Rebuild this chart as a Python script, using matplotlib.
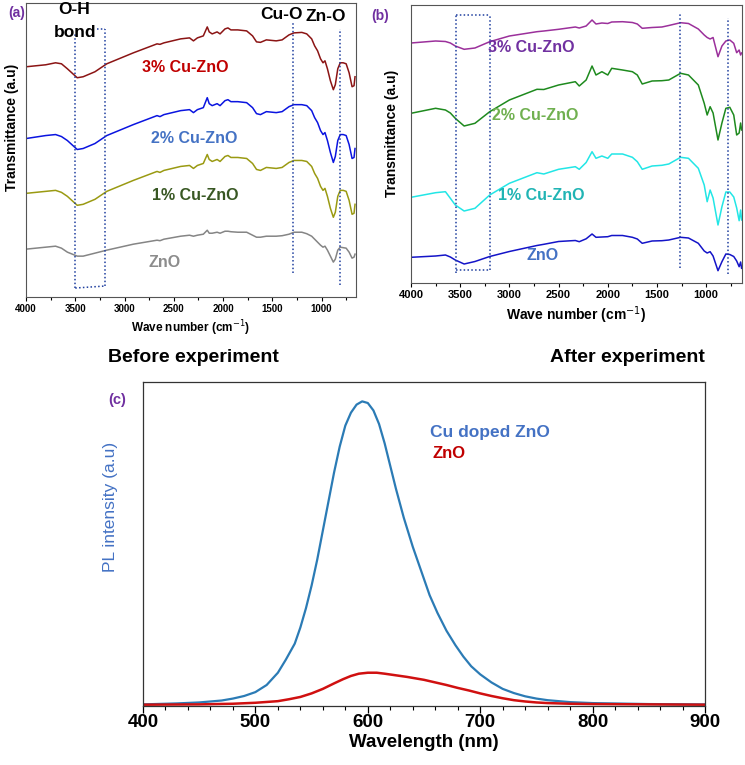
import numpy as np
import matplotlib.pyplot as plt
from matplotlib.ticker import MultipleLocator

plt.rcParams['font.family'] = ['Liberation Sans', 'DejaVu Sans']

# ---------------- FTIR before experiment (a) ----------------
wn_a = [4000, 3800, 3700, 3640, 3580, 3480, 3420, 3300, 3180, 2910,
        2670, 2640, 2600, 2430, 2340, 2300, 2260, 2200, 2160, 2140,
        2110, 2060, 2030, 1980, 1950, 1920, 1850, 1760, 1700, 1660,
        1620, 1560, 1460, 1400, 1330, 1280, 1200, 1150, 1100, 1070,
        1040, 1010, 985, 965, 940, 910, 880, 860, 835, 810,
        780, 750, 720, 690, 670, 660]
a_cu3 = [231, 233, 235, 234, 229, 220, 221, 226, 234, 245,
         254, 253.5, 255, 259, 260, 257, 260, 262, 271, 266,
         264, 266, 264, 269, 270, 268, 268, 267, 262, 256,
         255.5, 258, 257, 258, 263, 265, 265.5, 264, 259, 252,
         247, 239, 235, 237, 229, 217, 208, 213, 229, 235,
         235, 234, 225, 211, 212, 221]
a_cu2 = [159, 162, 163, 161, 157, 148, 149, 154, 162, 173,
         182, 181, 183, 187, 188, 185, 188, 190, 200, 194,
         192, 194, 192, 197, 198, 196, 196, 195, 190, 184,
         183, 186, 185, 186, 191, 193, 193, 192, 187, 180,
         175, 167, 163, 165, 157, 145, 135, 141, 157, 163,
         163, 162, 153, 139, 140, 149]
a_cu1 = [104, 106, 107, 105, 101, 92, 93, 98, 106, 117,
         126, 125, 127, 131, 132, 129, 132, 134, 143, 138,
         136, 138, 136, 141, 142, 140, 140, 139, 134, 128,
         127, 130, 129, 130, 135, 137, 137, 136, 131, 124,
         119, 111, 107, 109, 101, 89, 80, 85, 101, 107,
         107, 106, 97, 83, 84, 93]
a_zno = [48, 50, 51, 49, 45, 41, 41, 44, 47, 53,
         57, 56.5, 58, 61, 62, 61, 62, 63, 67, 64,
         64, 65, 64, 66, 66, 65.5, 65, 65, 62, 60,
         60, 61, 61, 61.5, 63, 65, 65, 63.5, 61, 58,
         55, 52, 50, 51, 47, 41, 35, 38, 47, 50,
         49.5, 49, 45, 39, 40, 43]

# ---------------- FTIR after experiment (b) ----------------
wn_b = [4000, 3750, 3650, 3600, 3550, 3460, 3350, 3200, 3000, 2720,
        2650, 2500, 2330, 2290, 2220, 2160, 2120, 2060, 2000, 1960,
        1850, 1750, 1700, 1650, 1550, 1450, 1380, 1260, 1180, 1080,
        1020, 990, 960, 930, 880, 840, 800, 760, 720, 690,
        665, 650, 640]
b_cu3 = [240, 242, 241.5, 240, 237, 233.7, 235, 241.3, 247, 251.3,
         252, 253.7, 256, 255, 257, 263, 259, 260, 259.5, 261,
         261.3, 260.5, 259, 254.7, 255.5, 256, 257.5, 260.3, 259.5, 254,
         248, 245.5, 244, 245.5, 226.3, 237, 242, 243, 239.7, 230.3,
         233, 228, 230]
b_cu2 = [169.7, 174.7, 173, 170, 164.7, 157, 159.7, 171.3, 183, 193.7,
         193.5, 198, 201.3, 197, 203, 217, 208, 211.3, 208, 214.7,
         213, 211.3, 208, 199, 202, 202.3, 203, 209.7, 208, 198,
         179.7, 168, 176.3, 170, 143, 160, 174.7, 175.7, 168, 148,
         150, 160, 153]
b_cu1 = [85.7, 90.3, 91.3, 84.7, 78, 72, 74.7, 88, 99.7, 110.3,
         109, 113.7, 116.3, 113.7, 120.5, 131.3, 124.7, 127, 124.7, 129,
         129, 125.7, 121.3, 113.7, 117, 117.7, 119, 125.7, 124.7, 114.7,
         98, 81.3, 93, 85, 58, 76.3, 91, 91, 86, 75,
         62.3, 73, 63]
b_zno = [25.7, 27, 28, 26, 23, 19, 21.5, 26.5, 31.5, 37.5,
         38.7, 41.5, 42.5, 41.3, 44.2, 49, 45.7, 46, 46.3, 47.5,
         47.5, 45.7, 44, 39.7, 42, 42.3, 43, 45.7, 45, 39.7,
         32, 30, 31.3, 27, 12.3, 21.3, 29, 28.5, 26.5, 22,
         16.3, 21, 14.7]

# band markers (cm-1)
oh_band_a = (3500, 3200)
oh_band_b = (3545, 3200)
cuo_a, zno_a = 1290, 810
cuo_b, zno_b = 1265, 782

# ---------------- PL spectra (c) ----------------
wl_cu = [400, 430, 450, 470, 480, 490, 500, 510, 520, 527,
         535, 540, 545, 550, 555, 560, 565, 570, 575, 580,
         585, 590, 595, 600, 605, 610, 615, 620, 625, 632,
         640, 648, 655, 662, 670, 678, 685, 692, 700, 710,
         720, 730, 740, 750, 760, 780, 800, 850, 900]
pl_cu = [0.002, 0.005, 0.008, 0.014, 0.02, 0.028, 0.04, 0.062, 0.10, 0.14,
         0.19, 0.24, 0.30, 0.37, 0.45, 0.54, 0.63, 0.72, 0.80, 0.865,
         0.905, 0.93, 0.94, 0.935, 0.912, 0.87, 0.81, 0.74, 0.67, 0.58,
         0.49, 0.41, 0.34, 0.285, 0.23, 0.185, 0.15, 0.12, 0.095, 0.07,
         0.05, 0.037, 0.027, 0.02, 0.015, 0.009, 0.006, 0.003, 0.002]
wl_zno = [400, 450, 480, 500, 520, 530, 540, 550, 560, 570,
          578, 585, 592, 600, 608, 615, 625, 635, 650, 660,
          670, 680, 690, 700, 710, 720, 730, 740, 750, 760,
          780, 800, 850, 900]
pl_zno = [0.001, 0.002, 0.004, 0.007, 0.012, 0.018, 0.025, 0.036, 0.05, 0.067,
          0.08, 0.09, 0.097, 0.1, 0.1, 0.097, 0.092, 0.087, 0.078, 0.07,
          0.062, 0.053, 0.045, 0.036, 0.028, 0.021, 0.015, 0.011, 0.008, 0.006,
          0.004, 0.003, 0.002, 0.001]

W, H = 745, 765
fig = plt.figure(figsize=(W / 100, H / 100), dpi=100)


def box(l, t, r, b):
    return [l / W, 1 - b / H, (r - l) / W, (b - t) / H]


def ftir_axes(ax, xmax_end, ylim, tick_size):
    ax.set_xlim(4000, xmax_end)
    ax.set_ylim(0, ylim)
    ax.xaxis.set_major_locator(MultipleLocator(500))
    ax.xaxis.set_minor_locator(MultipleLocator(250))
    ax.tick_params(axis='x', which='both', direction='out', length=3, width=0.8,
                   labelsize=tick_size, pad=2)
    ax.tick_params(axis='x', which='minor', length=2)
    ax.set_yticks([])
    for lbl in ax.get_xticklabels():
        lbl.set_fontweight('bold')
    for sp in ax.spines.values():
        sp.set_color('#555555')
        sp.set_linewidth(0.8)


dot = dict(color='#1f3f9f', ls=(0, (1, 1.5)), lw=1.1)

# ---- panel (a)
ax1 = fig.add_axes(box(26, 3, 356, 297))
ax1.plot(wn_a, a_cu3, color='#8b1414', lw=1.1)
ax1.plot(wn_a, a_cu2, color='#0a14e0', lw=1.1)
ax1.plot(wn_a, a_cu1, color='#9a9a12', lw=1.1)
ax1.plot(wn_a, a_zno, color='#858585', lw=1.1)
ftir_axes(ax1, 650, 295, 7)
ax1.axvline(oh_band_a[0], 0.03, 0.895, **dot)
ax1.axvline(oh_band_a[1], 0.037, 0.912, **dot)
ax1.plot(oh_band_a, [9, 11], **dot)
ax1.plot([3280, oh_band_a[1]], [269, 269], **dot)
ax1.axvline(cuo_a, 0.081, 0.939, **dot)
ax1.axvline(zno_a, 0.041, 0.912, **dot)
ax1.set_xlabel('Wave number (cm$^{-1}$)', fontsize=8.5, fontweight='bold', labelpad=3)
ax1.set_ylabel('Transmittance (a.u)', fontsize=10, fontweight='bold')
ax1.yaxis.set_label_coords(-0.022, 0.578)
lab = dict(ha='center', va='center', fontsize=11.5, fontweight='bold')
ax1.text(2386, 230, '3% Cu-ZnO', color='#c00000', **lab)
ax1.text(2294, 159, '2% Cu-ZnO', color='#4472c4', **lab)
ax1.text(2284, 102, '1% Cu-ZnO', color='#385723', **lab)
ax1.text(2589, 35, 'ZnO', color='#8c8c8c', **lab)
ax1.text(3513, 288, 'O-H', color='black', ha='center', va='center', fontsize=12.5, fontweight='bold')
ax1.text(3503, 265, 'bond', color='black', ha='center', va='center', fontsize=12.5, fontweight='bold')
ax1.text(1411, 283, 'Cu-O', color='black', ha='center', va='center', fontsize=12.5, fontweight='bold')
ax1.text(954, 281, 'Zn-O', color='black', ha='center', va='center', fontsize=12.5, fontweight='bold')
fig.text(17 / W, 1 - 13 / H, '(a)', color='#7030a0', fontsize=10, fontweight='bold',
         ha='center', va='center')

# ---- panel (b)
ax2 = fig.add_axes(box(411, 5, 742, 283))
ax2.plot(wn_b, b_cu3, color='#9b309b', lw=1.1)
ax2.plot(wn_b, b_cu2, color='#1e8a1e', lw=1.1)
ax2.plot(wn_b, b_cu1, color='#22e6e6', lw=1.1)
ax2.plot(wn_b, b_zno, color='#1414c8', lw=1.1)
ftir_axes(ax2, 636, 278, 8)
ax2.axvline(oh_band_b[0], 0.036, 0.964, **dot)
ax2.axvline(oh_band_b[1], 0.047, 0.964, **dot)
ax2.plot(oh_band_b, [13, 13], **dot)
ax2.plot(oh_band_b, [268, 268], **dot)
ax2.axvline(cuo_b, 0.054, 0.971, **dot)
ax2.axvline(zno_b, 0.032, 0.953, **dot)
ax2.set_xlabel('Wave number (cm$^{-1}$)', fontsize=10, fontweight='bold', labelpad=3)
ax2.set_ylabel('Transmittance (a.u)', fontsize=10, fontweight='bold')
ax2.yaxis.set_label_coords(-0.036, 0.54)
labl = dict(ha='left', va='center', fontsize=11.5, fontweight='bold')
ax2.text(3219, 235, '3% Cu-ZnO', color='#7030a0', **labl)
ax2.text(3178, 168, '2% Cu-ZnO', color='#70b050', **labl)
ax2.text(3117, 88, '1% Cu-ZnO', color='#20b4b4', **labl)
ax2.text(2822, 28, 'ZnO', color='#4472c4', **labl)
fig.text(380 / W, 1 - 16 / H, '(b)', color='#7030a0', fontsize=10, fontweight='bold',
         ha='center', va='center')

# ---- panel (c)
narrow = ['Liberation Sans Narrow', 'Liberation Sans', 'DejaVu Sans']
ax3 = fig.add_axes(box(143, 382, 705, 706))
ax3.plot(wl_cu, pl_cu, color='#2b7bb5', lw=1.6)
ax3.plot(wl_zno, pl_zno, color='#d01010', lw=1.8)
ax3.set_xlim(400, 900)
ax3.set_ylim(-0.003, 1.0)
ax3.xaxis.set_major_locator(MultipleLocator(100))
ax3.xaxis.set_minor_locator(MultipleLocator(20))
ax3.tick_params(axis='x', which='major', direction='out', length=5, width=0.9, pad=1)
ax3.tick_params(axis='x', which='minor', direction='out', length=3, width=0.8)
ax3.set_yticks([])
for sp in ax3.spines.values():
    sp.set_color('#333333')
    sp.set_linewidth(0.9)
for lbl in ax3.get_xticklabels():
    lbl.set_fontweight('bold')
    lbl.set_fontsize(13.5)
    lbl.set_family(narrow)
ax3.set_xlabel('Wavelength (nm)', fontsize=13.5, fontweight='bold', family=narrow, labelpad=2)
ax3.set_ylabel('PL intensity (a.u)', fontsize=12.5, color='#4472c4')
ax3.yaxis.set_label_coords(-0.044, 0.613)
ax3.text(0.51, 0.845, 'Cu doped ZnO', transform=ax3.transAxes, color='#4472c4',
         fontsize=12.5, fontweight='bold', ha='left', va='center')
ax3.text(0.515, 0.778, 'ZnO', transform=ax3.transAxes, color='#c00000',
         fontsize=12, fontweight='bold', ha='left', va='center')
fig.text(108 / W, 1 - 357 / H, 'Before experiment', fontsize=14, fontweight='bold',
         family=narrow, ha='left', va='center')
fig.text(705 / W, 1 - 357 / H, 'After experiment', fontsize=14, fontweight='bold',
         family=narrow, ha='right', va='center')
fig.text(117 / W, 1 - 400 / H, '(c)', color='#7030a0', fontsize=10.5, fontweight='bold',
         ha='center', va='center')

fig.savefig('out.png', dpi=100)
